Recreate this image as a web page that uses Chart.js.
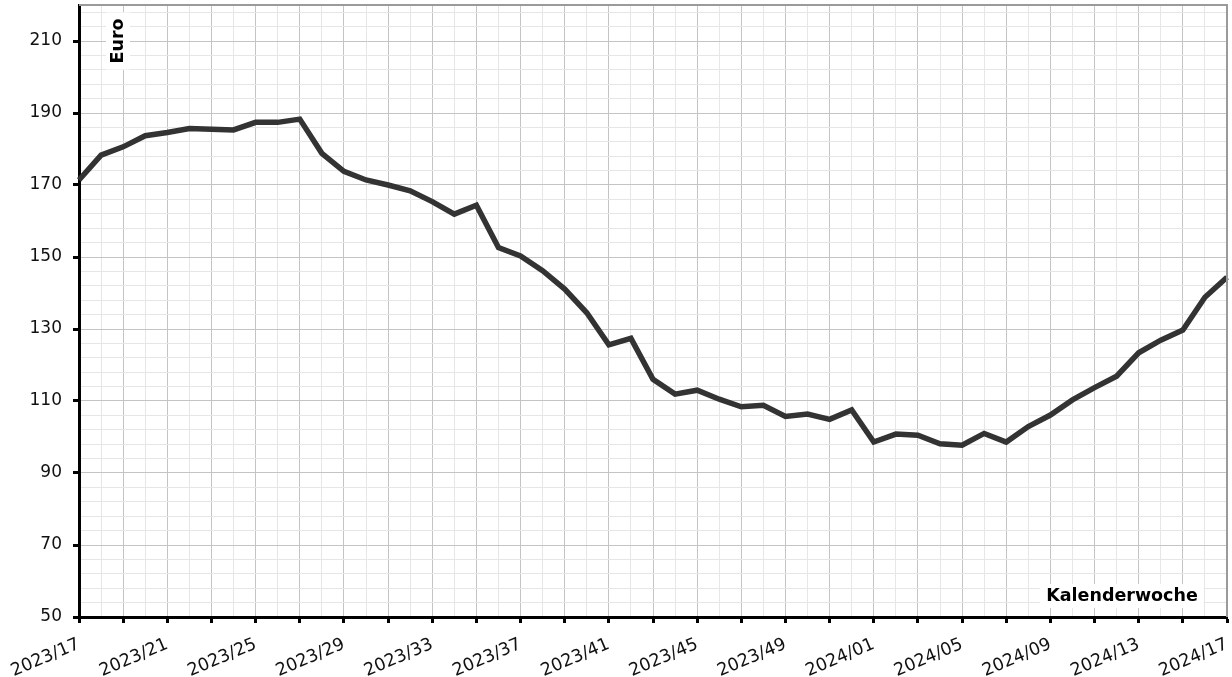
<!DOCTYPE html>
<html>
<head>
<meta charset="utf-8">
<script src="https://cdn.jsdelivr.net/npm/chart.js@4/dist/chart.umd.min.js"></script>
<style>
  html, body { margin: 0; padding: 0; background: #fff; }
  #wrap { width: 1232px; height: 677px; position: relative; }
</style>
</head>
<body>
<div id="wrap"><canvas id="priceChart"></canvas></div>
<script>
const weeks = [
    '2023/17', '2023/18', '2023/19', '2023/20', '2023/21', '2023/22', '2023/23', '2023/24',
    '2023/25', '2023/26', '2023/27', '2023/28', '2023/29', '2023/30', '2023/31', '2023/32',
    '2023/33', '2023/34', '2023/35', '2023/36', '2023/37', '2023/38', '2023/39', '2023/40',
    '2023/41', '2023/42', '2023/43', '2023/44', '2023/45', '2023/46', '2023/47', '2023/48',
    '2023/49', '2023/50', '2023/51', '2023/52', '2024/01', '2024/02', '2024/03', '2024/04',
    '2024/05', '2024/06', '2024/07', '2024/08', '2024/09', '2024/10', '2024/11', '2024/12',
    '2024/13', '2024/14', '2024/15', '2024/16', '2024/17'
];

const prices = [
    171.4, 178.3, 180.6, 183.7, 184.6, 185.7, 185.5, 185.3,
    187.4, 187.4, 188.3, 178.8, 173.8, 171.4, 170.0, 168.4,
    165.4, 161.9, 164.4, 152.6, 150.3, 146.2, 141.1, 134.5,
    125.6, 127.4, 116.0, 111.9, 113.0, 110.5, 108.4, 108.8,
    105.7, 106.4, 104.9, 107.5, 98.6, 100.8, 100.5, 98.1,
    97.7, 101.0, 98.6, 102.9, 106.1, 110.3, 113.7, 116.9,
    123.4, 126.9, 129.7, 138.8, 144.4
];

const yLabelTicks = [50, 70, 90, 110, 130, 150, 170, 190, 210];
const yMin = 50;
const yMax = 220;
const yMinorStep = 4;

const FONT = '"DejaVu Sans", Verdana, sans-serif';

// axis captions + top/right frame
const extras = {
    id: 'extras',
    afterDraw(chart) {
        const { ctx, chartArea: a } = chart;
        ctx.save();
        ctx.strokeStyle = '#9a9a9a';
        ctx.lineWidth = 2;
        ctx.beginPath();
        ctx.moveTo(a.left, a.top);
        ctx.lineTo(a.right, a.top);
        ctx.lineTo(a.right, a.bottom);
        ctx.stroke();

        ctx.font = 'bold 17.5px ' + FONT;
        ctx.textAlign = 'center';
        ctx.textBaseline = 'middle';

        // Kalenderwoche
        const kw = 'Kalenderwoche';
        const kwW = ctx.measureText(kw).width;
        ctx.fillStyle = '#fff';
        ctx.fillRect(1122 - kwW / 2 - 6, 584, kwW + 12, 24);
        ctx.fillStyle = '#000';
        ctx.fillText(kw, 1122, 596);

        // Euro
        ctx.translate(118, 41);
        ctx.rotate(-Math.PI / 2);
        const eW = ctx.measureText('Euro').width;
        ctx.fillStyle = '#fff';
        ctx.fillRect(-eW / 2 - 6, -12, eW + 12, 24);
        ctx.fillStyle = '#000';
        ctx.fillText('Euro', 0, 0);
        ctx.restore();
    }
};

const ctx = document.getElementById('priceChart');
new Chart(ctx, {
    type: 'line',
    data: {
        labels: weeks,
        datasets: [{
            data: prices,
            borderColor: '#333333',
            borderWidth: 5.5,
            pointRadius: 0,
            tension: 0,
            fill: false
        }]
    },
    options: {
        responsive: true,
        maintainAspectRatio: false,
        animation: false,
        events: [],
        layout: { padding: { top: 5, right: 5, left: 0, bottom: 0 } },
        plugins: { legend: { display: false }, tooltip: { enabled: false } },
        scales: {
            x: {
                offset: false,
                border: { color: '#000', width: 3 },
                grid: {
                    offset: false,
                    color: (c) => c.index % 2 === 0 ? '#c4c4c4' : '#e6e6e6',
                    lineWidth: 1,
                    tickColor: (c) => c.index % 2 === 0 ? '#000' : 'rgba(0,0,0,0)',
                    tickWidth: 3,
                    tickLength: 6
                },
                ticks: {
                    autoSkip: false,
                    minRotation: 23,
                    maxRotation: 23,
                    padding: 11,
                    color: '#111',
                    font: { family: FONT, size: 17.5 },
                    callback: function (value, index) {
                        return index % 4 === 0 ? weeks[index] : '';
                    }
                },
                afterFit: (scale) => {
                    scale.height = 60;
                    scale.paddingLeft = 0;
                    scale.paddingRight = 0;
                }
            },
            y: {
                min: yMin,
                max: yMax,
                border: { color: '#000', width: 3 },
                grid: {
                    color: (c) => yLabelTicks.includes(c.tick.value) ? '#c4c4c4' : '#e6e6e6',
                    lineWidth: 1,
                    tickColor: (c) => yLabelTicks.includes(c.tick.value) ? '#000' : 'rgba(0,0,0,0)',
                    tickWidth: 3,
                    tickLength: 6
                },
                ticks: {
                    autoSkip: false,
                    padding: 11,
                    color: '#111',
                    font: { family: FONT, size: 17 },
                    callback: function (value) {
                        return yLabelTicks.includes(value) ? String(value) : '';
                    }
                },
                afterBuildTicks: (scale) => {
                    const t = [];
                    for (let v = yMin; v < yMax; v += yMinorStep) t.push({ value: v });
                    scale.ticks = t;
                },
                afterFit: (scale) => {
                    scale.width = 79;
                    scale.paddingTop = 0;
                    scale.paddingBottom = 0;
                }
            }
        }
    },
    plugins: [extras]
});
</script>
</body>
</html>
